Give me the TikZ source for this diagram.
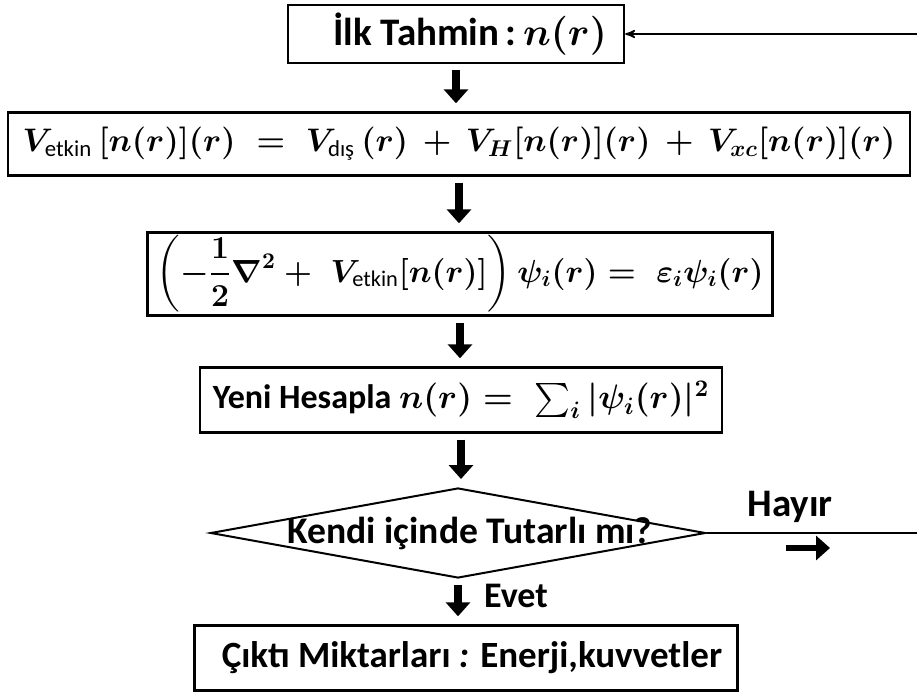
\documentclass[tikz,border=0pt]{standalone}
\usepackage{amsmath,amssymb}
\usepackage{fix-cm}
\usepackage{fontspec}
\setmainfont{Carlito}
\usepackage{tikz}
\usetikzlibrary{arrows,arrows.meta}
\usetikzlibrary{calc}
\usetikzlibrary{shapes.geometric}

\newcommand{\altyazi}[1]{\text{\normalfont #1}}
\newcommand{\boy}[1]{\fontsize{#1}{1.2\dimexpr#1pt\relax}\selectfont}

\begin{document}
\begin{tikzpicture}
[>=stealth',x=.5pt,y=-.5pt,every node/.style={rectangle,draw,line width=1.2pt,inner sep=0pt,font=\boldmath\bfseries\boy{18}},
yazi/.style={draw=none},
karar/.style={diamond,line width=1pt},
kalinok/.style={line width=4pt,-{Triangle[length=7pt,width=12pt]}},
ince/.style={line width=.8pt}]

\useasboundingbox (0,0) rectangle (917,696);
\clip (0,0) rectangle (917,696);

\node[minimum width=168pt,minimum height=29pt,font=\boldmath\bfseries\boy{19.5}] (tahmin) at (456,34) {\hspace*{14pt}İlk Tahmin\,:\,$n(r)$};
\node[minimum width=451pt,minimum height=31.5pt,font=\boldmath\bfseries\boy{16.3}] (veff) at (459,144)
 {$V_{\altyazi{etkin}}\,[n(r)](r)\;=\;V_{\altyazi{dış}}\,(r)\,+\,V_H[n(r)](r)\,+\,V_{xc}[n(r)](r)$};
\node[minimum width=312.5pt,minimum height=41.5pt,inner ysep=-7pt,font=\boldmath\bfseries\boy{16}] (ks) at (460,274)
 {$\displaystyle\left(-\frac{1}{2}\nabla^2+\;V_{\altyazi{etkin}}[n(r)]\right)\psi_i(r)=\;\varepsilon_i\psi_i(r)$};
\node[minimum width=261pt,minimum height=32.5pt,font=\boldmath\bfseries\boy{17}] (yeni) at (461,400)
 {Yeni Hesapla $n(r)=\;\textstyle\sum_i|\psi_i(r)|^2$};
\node[karar,minimum width=247.5pt,minimum height=45pt,
 label={[yazi,xshift=6pt,font=\bfseries\boy{18.8}]center:Kendi içinde Tutarlı mı?}] (tutarli) at (458,533) {};
\node[minimum width=271.5pt,minimum height=32.5pt,font=\bfseries\boy{18.5}] (cikti) at (466,658)
 {\hspace*{6pt}Çıktı Miktarları \textit{:} Enerji,kuvvetler};

\node[yazi,font=\bfseries\boy{19.5}] (hayir) at (790,507) {Hayır};
\node[yazi] (evet) at (516,596) {Evet};

\coordinate (sag) at (930,533);
\coordinate (ok1) at (786,548);
\coordinate (ok2) at (830,548);

%ana akis
\foreach \from/\to in {tahmin/veff,veff/ks,ks/yeni,yeni/tutarli,tutarli/cikti}
\draw[kalinok,shorten <=3pt,shorten >=4pt] (\from.south) -- (\from.south |- \to.north);

%geri donus
\draw[ince,->] (tutarli.east) -- (sag) |- (tahmin.east);
\draw[kalinok,line width=3pt] (ok1) -- (ok2);

\end{tikzpicture}
\end{document}
